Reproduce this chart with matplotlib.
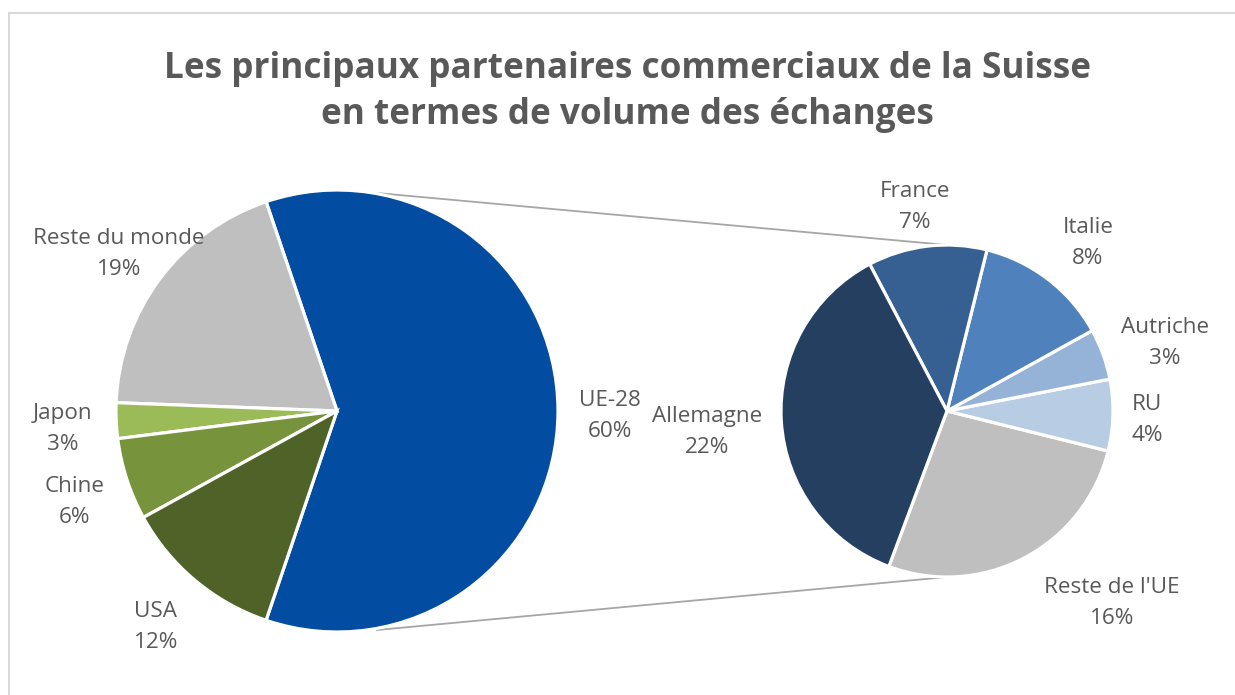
import matplotlib.pyplot as plt

# main pie (share of total trade, %)
main_names = ['UE-28', 'Reste du monde', 'Japon', 'Chine', 'USA']
main_values = [60.4, 19.2, 2.6, 6.0, 11.8]
main_colors = ['#024DA1', '#BFBFBF', '#9BBB59', '#77933C', '#4F6228']

# breakdown of UE-28 (share of total trade, %)
eu_names = ["Reste de l'UE", 'RU', 'Autriche', 'Italie', 'France', 'Allemagne']
eu_values = [16.2, 4.2, 3.0, 7.9, 7.0, 22.1]
eu_colors = ['#BFBFBF', '#B8CCE4', '#95B3D7', '#4F81BD', '#366092', '#243F60']

W, H = 1235, 695
TXT = '#595959'

fig = plt.figure(figsize=(W / 100, H / 100), dpi=100)
ax = fig.add_axes([0, 0, 1, 1])

def Y(y):
    return H - y

# pies
c1, r1 = (337, Y(411)), 221
c2, r2 = (947, Y(411)), 166
wp = dict(edgecolor='white', linewidth=2.3)

span = main_values[0] / sum(main_values) * 360
ax.pie(main_values, colors=main_colors, startangle=-span / 2, counterclock=True,
       radius=r1, center=c1, wedgeprops=wp)
ax.pie(eu_values, colors=eu_colors, startangle=249.5, counterclock=True,
       radius=r2, center=c2, wedgeprops=wp)

# connector lines
ax.plot([377, 947], [Y(193), Y(411 - r2)], color='#A6A6A6', lw=1.3, zorder=0)
ax.plot([377, 947], [Y(630), Y(411 + r2)], color='#A6A6A6', lw=1.3, zorder=0)

# labels
main_pos = [(610, 416), (119, 254), (63, 429), (75, 502), (156, 627)]
eu_pos = [(1112, 603), (1147, 420), (1165, 343), (1088, 243), (915, 207), (707, 432)]
for names, vals, pos in [(main_names, main_values, main_pos), (eu_names, eu_values, eu_pos)]:
    for n, v, (x, y) in zip(names, vals, pos):
        ax.text(x, Y(y), f'{n}\n{round(v)}%', ha='center', va='center',
                fontsize=16.2, color=TXT, family='Open Sans', linespacing=1.6)

# title
ax.text(627, Y(69), 'Les principaux partenaires commerciaux de la Suisse',
        ha='center', va='center', fontsize=25.3, fontweight='bold', color=TXT, family='Open Sans')
ax.text(627, Y(115), 'en termes de volume des échanges',
        ha='center', va='center', fontsize=25.3, fontweight='bold', color=TXT, family='Open Sans')

# chart border
ax.plot([9, W + 5], [Y(12.5), Y(12.5)], color='#D9D9D9', lw=1.5, clip_on=False)
ax.plot([9, 9], [Y(12.5), -5], color='#D9D9D9', lw=1.5, clip_on=False)

ax.set_xlim(0, W)
ax.set_ylim(0, H)
ax.set_aspect('equal')
ax.axis('off')

fig.savefig('out.png', dpi=100)
